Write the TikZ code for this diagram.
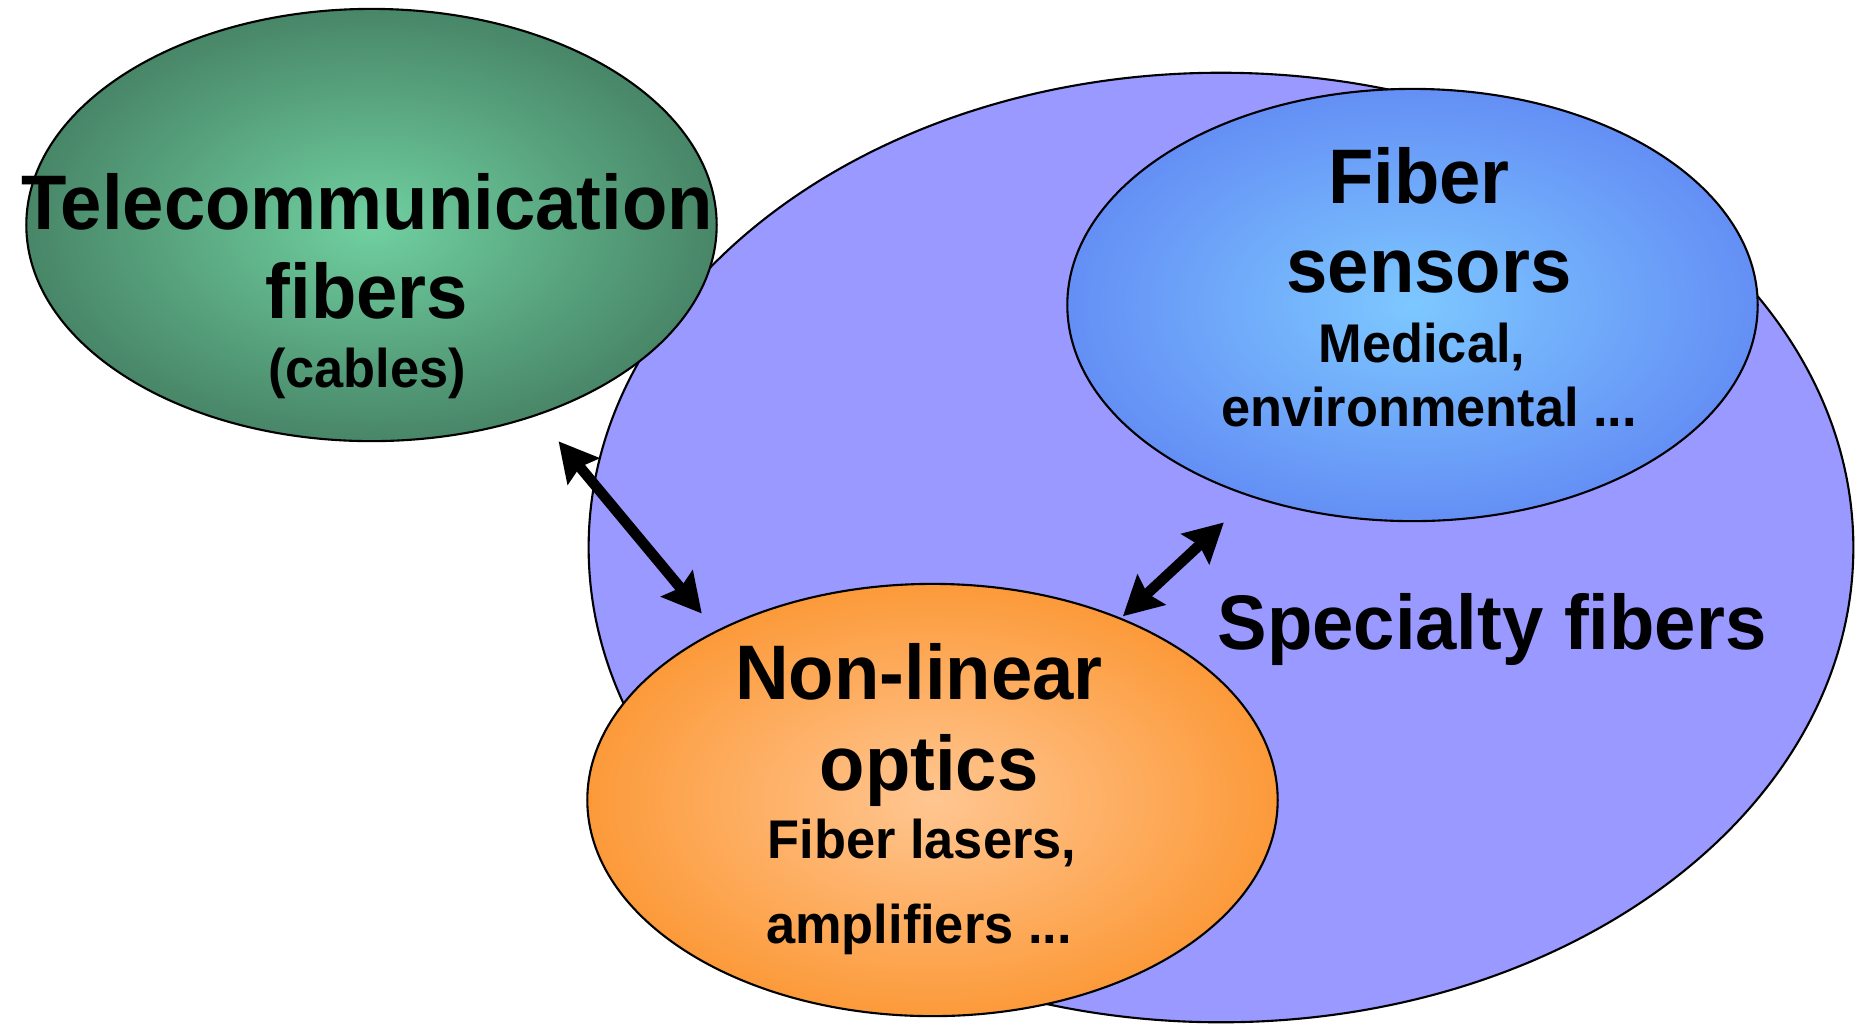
\documentclass[tikz,border=0pt]{standalone}
\usepackage{xcolor}
\usepackage{fontspec}
\setmainfont{Liberation Sans}[FakeStretch=0.96]
\usepackage{tikz}
\usetikzlibrary{shapes.geometric, arrows.meta, positioning}
\definecolor{specfill}{RGB}{153,153,255}
\definecolor{telin}{RGB}{112,208,160}
\definecolor{telout}{RGB}{72,134,104}
\definecolor{senin}{RGB}{125,200,255}
\definecolor{senout}{RGB}{100,143,245}
\definecolor{nloin}{RGB}{255,198,145}
\definecolor{nloout}{RGB}{252,154,58}
\tikzset{
    blob/.style={
        ellipse, draw=black, line width=0.6pt, inner sep=0pt, outer sep=0pt,
        minimum width=6.9cm, minimum height=4.32cm
    },
    special_blob/.style={
        ellipse, draw=black, line width=0.6pt, inner sep=0pt, outer sep=0pt,
        fill=specfill, minimum width=12.64cm, minimum height=9.49cm
    },
    telecom_blob/.style={blob, inner color=telin, outer color=telout},
    sensor_blob/.style={blob, inner color=senin, outer color=senout},
    nonlin_blob/.style={blob, inner color=nloin, outer color=nloout},
    headtext/.style={anchor=base, inner sep=0pt, font=\fontsize{22}{26}\selectfont\bfseries},
    subtext/.style={anchor=base, inner sep=0pt, font=\fontsize{15.5}{18}\selectfont\bfseries},
    biarrow/.style={
        line width=3pt,
        {Stealth[length=11pt, width=11.5pt, inset=1.5pt]}-{Stealth[length=11pt, width=11.5pt, inset=1.5pt]}
    }
}

\begin{document}
\begin{tikzpicture}[x=0.01cm, y=-0.01cm]
    \useasboundingbox (0,0) rectangle (1859,1032);
    \node[special_blob] (special) at (1221, 547.5) {};
    \node[telecom_blob] (telecom) at (371.5, 225) {};
    \node[sensor_blob] (sensors) at (1412.5, 305) {};
    \node[nonlin_blob] (nonlin) at (932.5, 800) {};

    \draw[biarrow, shorten <=9.8pt, shorten >=6.6pt] (telecom.-49.4) -- (nonlin.142.6);
    \draw[biarrow, shorten <=1pt, shorten >=10.9pt] (nonlin.44.9) -- (sensors.230.7);

    \node[headtext] (tel1) at (367, 229) {Telecommunication};
    \node[headtext] (tel2) at (367, 318) {fibers};
    \node[subtext] (tel3) at (367, 387) {(cables)};

    \node[headtext] (sen1) at (1419, 203) {Fiber};
    \node[headtext] (sen2) at (1429, 292) {sensors};
    \node[subtext] (sen3) at (1422, 362) {Medical,};
    \node[subtext] (sen4) at (1429, 426) {environmental ...};

    \node[headtext] (nlo1) at (919, 699) {Non-linear};
    \node[headtext] (nlo2) at (929, 790) {optics};
    \node[subtext] (nlo3) at (922, 858) {Fiber lasers,};
    \node[subtext] (nlo4) at (919, 943) {amplifiers ...};

    \node[headtext] (spec) at (1492, 649) {Specialty fibers};
\end{tikzpicture}
\end{document}
